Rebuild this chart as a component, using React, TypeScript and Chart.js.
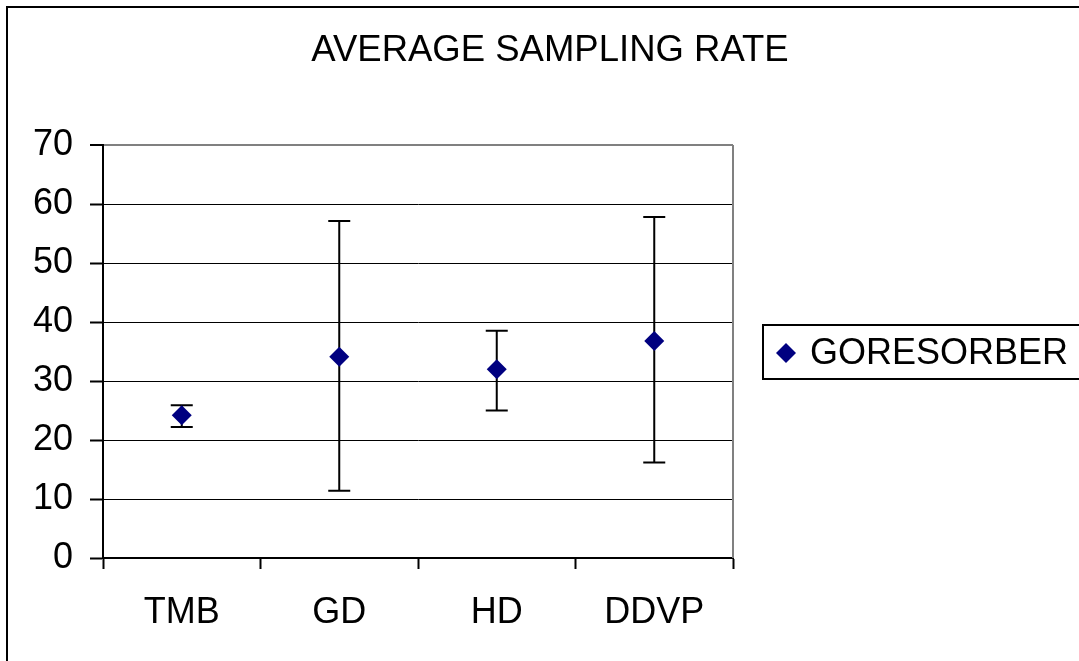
import React, { useEffect, useRef } from "react";
import { Chart, registerables } from "chart.js";

Chart.register(...registerables);

const categories = ["TMB", "GD", "HD", "DDVP"];
const seriesLabel = "GORESORBER";
const means = [24.2, 34.1, 32.0, 36.8];
const errLow = [22.2, 11.4, 25.0, 16.2];
const errHigh = [25.9, 57.1, 38.5, 57.8];
const titleText = "AVERAGE SAMPLING RATE";
const yMin = 0;
const yMax = 70;
const yStep = 10;

const FONT = "'Liberation Sans', Arial, sans-serif";
const NAVY = "#000080";

const framePlugin = {
  id: "frame",
  beforeDraw(chart: any) {
    const ctx = chart.ctx;
    ctx.save();
    ctx.fillStyle = "#ffffff";
    ctx.fillRect(0, 0, chart.width, chart.height);
    ctx.strokeStyle = "#000";
    ctx.lineWidth = 2;
    ctx.strokeRect(7, 7, 2000, 2000);
    ctx.restore();
  },
  afterDraw(chart: any) {
    const ctx = chart.ctx;
    const a = chart.chartArea;
    ctx.save();
    // plot-area right border (gray)
    ctx.strokeStyle = "#808080";
    ctx.lineWidth = 2;
    ctx.beginPath();
    ctx.moveTo(a.right, a.top);
    ctx.lineTo(a.right, a.bottom);
    ctx.stroke();
    // title
    ctx.fillStyle = "#000";
    ctx.font = `36.5px ${FONT}`;
    ctx.textAlign = "center";
    ctx.textBaseline = "alphabetic";
    ctx.fillText(titleText, 550, 61);
    // legend box
    ctx.font = `36px ${FONT}`;
    ctx.strokeStyle = "#000";
    ctx.lineWidth = 2;
    ctx.strokeRect(763, 325, 400, 54);
    const cx = 786, cy = 353, r = 10;
    ctx.fillStyle = NAVY;
    ctx.beginPath();
    ctx.moveTo(cx, cy - r);
    ctx.lineTo(cx + r, cy);
    ctx.lineTo(cx, cy + r);
    ctx.lineTo(cx - r, cy);
    ctx.closePath();
    ctx.fill();
    ctx.fillStyle = "#000";
    ctx.textAlign = "left";
    ctx.fillText(chart.data.datasets[0].label, 810, 364);
    ctx.restore();
  },
};

const errorBarPlugin = {
  id: "errorBars",
  beforeDatasetsDraw(chart: any) {
    const ctx = chart.ctx;
    const xs = chart.scales.x;
    const ys = chart.scales.y;
    ctx.save();
    ctx.strokeStyle = "#000";
    ctx.lineWidth = 2;
    categories.forEach((_, i) => {
      const x = xs.getPixelForValue(i);
      const yl = ys.getPixelForValue(errLow[i]);
      const yh = ys.getPixelForValue(errHigh[i]);
      ctx.beginPath();
      ctx.moveTo(x, yl);
      ctx.lineTo(x, yh);
      ctx.moveTo(x - 11, yl);
      ctx.lineTo(x + 11, yl);
      ctx.moveTo(x - 11, yh);
      ctx.lineTo(x + 11, yh);
      ctx.stroke();
    });
    ctx.restore();
  },
};

export default function App() {
  const ref = useRef<HTMLCanvasElement>(null);
  useEffect(() => {
    if (!ref.current) return;
    const chart = new Chart(ref.current, {
      type: "line",
      data: {
        labels: categories,
        datasets: [
          {
            label: seriesLabel,
            data: means,
            showLine: false,
            pointStyle: "rectRot",
            pointRadius: 10,
            pointBackgroundColor: NAVY,
            pointBorderColor: NAVY,
            pointBorderWidth: 0,
          },
        ],
      },
      options: {
        responsive: false,
        animation: false,
        layout: { padding: { left: 0, top: 145, right: 346, bottom: 0 } },
        plugins: {
          legend: { display: false },
          title: { display: false },
          tooltip: { enabled: false },
        },
        scales: {
          x: {
            type: "category",
            offset: true,
            afterFit(scale: any) {
              scale.height = 103;
            },
            grid: {
              offset: true,
              drawOnChartArea: false,
              tickLength: 11,
              tickColor: "#000",
              tickWidth: 2,
            },
            border: { color: "#000", width: 2 },
            ticks: {
              color: "#000",
              font: { size: 36, family: FONT },
              padding: 22,
              maxRotation: 0,
            },
          },
          y: {
            min: yMin,
            max: yMax,
            afterFit(scale: any) {
              scale.width = 103;
            },
            grid: {
              color: (c: any) => (c.tick && c.tick.value === yMax ? "#808080" : "#000"),
              lineWidth: (c: any) => (c.tick && c.tick.value === yMax ? 2 : 1),
              tickLength: 13,
              tickColor: "#000",
              tickWidth: 2,
            },
            border: { color: "#000", width: 2 },
            ticks: {
              stepSize: yStep,
              color: "#000",
              font: { size: 36, family: FONT },
              padding: 17,
            },
          },
        },
      },
      plugins: [framePlugin, errorBarPlugin],
    });
    return () => chart.destroy();
  }, []);
  return (
    <div style={{ position: "absolute", left: 0, top: 0, width: 1079, height: 661 }}>
      <canvas ref={ref} width={1079} height={661} />
    </div>
  );
}
